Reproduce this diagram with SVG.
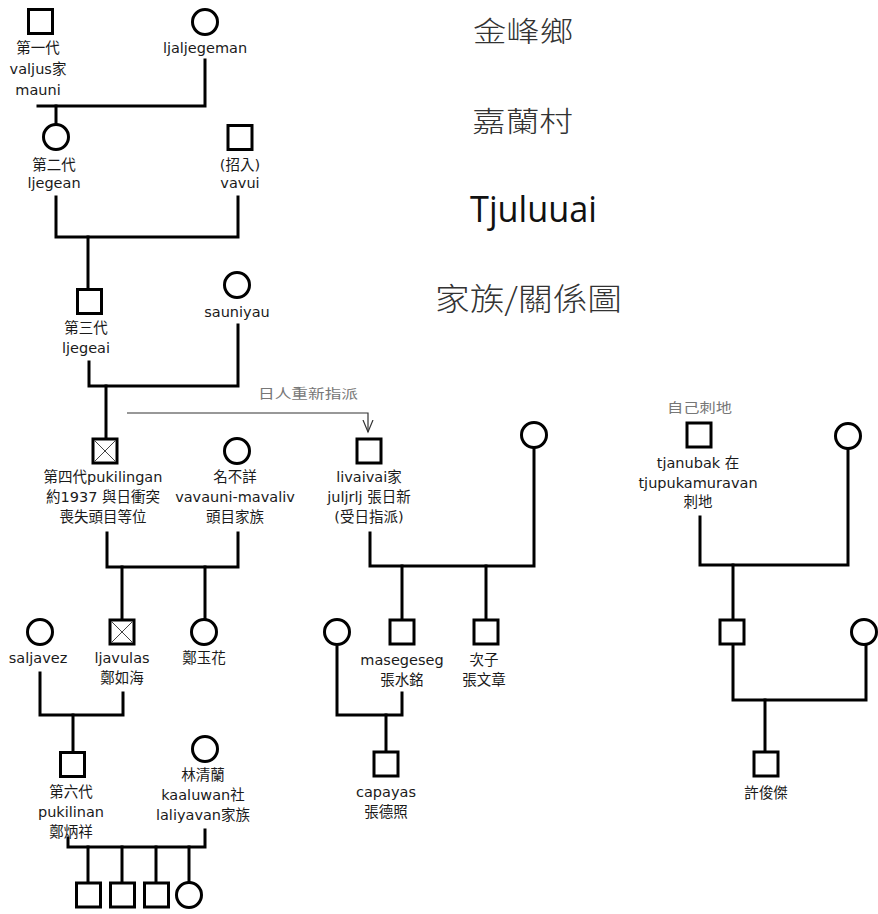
<svg xmlns="http://www.w3.org/2000/svg" width="878" height="914" viewBox="0 0 878 914">
<defs>
<style>
.ln{fill:none;stroke:#000;stroke-width:3;stroke-linecap:square}
.nd{fill:#fff;stroke:#000;stroke-width:3}
.x{stroke:#444;stroke-width:1}
.t{font-family:"DejaVu Sans","Noto Sans CJK TC",sans-serif;font-size:14.5px;fill:#1a1a1a;text-anchor:middle}
.g{font-family:"DejaVu Sans","Noto Sans CJK TC",sans-serif;font-size:13px;fill:#777}
.h{font-family:"Noto Sans CJK TC",sans-serif;font-weight:300;fill:#333}
.hl{font-family:"Open Sans","Liberation Sans",sans-serif;font-weight:400;fill:#111}
</style>
<marker id="arr" markerWidth="12" markerHeight="14" refX="6" refY="12" orient="0" markerUnits="userSpaceOnUse">
<path d="M1,0 L6,12 L11,0" fill="none" stroke="#333" stroke-width="1.2"/>
</marker>
</defs>
<rect width="878" height="914" fill="#fff"/>

<g id="titles">
<text class="h" x="473" y="42" font-size="28" textLength="100" lengthAdjust="spacingAndGlyphs">金峰鄉</text>
<text class="h" x="472" y="132" font-size="28" textLength="101" lengthAdjust="spacingAndGlyphs">嘉蘭村</text>
<text class="hl" x="470" y="222" font-size="36" textLength="127" lengthAdjust="spacingAndGlyphs">Tjuluuai</text>
<text class="h" x="435" y="310" font-size="31" textLength="187" lengthAdjust="spacingAndGlyphs">家族/關係圖</text>
</g>

<g id="connectors">
<path class="ln" d="M38,106 H205 V60"/>
<path class="ln" d="M56,106 V123"/>
<path class="ln" d="M56,197 V237 H238 V197"/>
<path class="ln" d="M88,237 V288"/>
<path class="ln" d="M89,362 V386 H238 V325"/>
<path class="ln" d="M106,386 V437"/>
<path class="ln" d="M107,533 V567 H238 V533"/>
<path class="ln" d="M122,567 V618"/>
<path class="ln" d="M205,567 V618"/>
<path class="ln" d="M40,673 V715 H123 V693"/>
<path class="ln" d="M73,715 V751"/>
<path class="ln" d="M68,838 V847 H205 V830"/>
<path class="ln" d="M88,847 V882"/>
<path class="ln" d="M122,847 V882"/>
<path class="ln" d="M156,847 V882"/>
<path class="ln" d="M189,847 V882"/>
<path class="ln" d="M370,533 V566 H534 V448"/>
<path class="ln" d="M402,566 V618"/>
<path class="ln" d="M486,566 V618"/>
<path class="ln" d="M337,647 V715 H402 V693"/>
<path class="ln" d="M386,715 V750"/>
<path class="ln" d="M700,517 V565 H848 V450"/>
<path class="ln" d="M733,565 V618"/>
<path class="ln" d="M733,645 V700 H866 V645"/>
<path class="ln" d="M765,700 V750"/>
<path d="M127,413 H368 V432" fill="none" stroke="#333" stroke-width="1.2" marker-end="url(#arr)"/>
<text class="g" x="258" y="398" textLength="100" lengthAdjust="spacingAndGlyphs">日人重新指派</text>
</g>

<g id="gen1-mauni">
<rect class="nd" x="28.5" y="9.5" width="24" height="24"/>
<text class="t" x="38" y="53">第一代</text>
<text class="t" x="38" y="74">valjus家</text>
<text class="t" x="38" y="95">mauni</text>
</g>
<g id="ljaljegeman">
<circle class="nd" cx="205" cy="22" r="12.5"/>
<text class="t" x="205" y="53">ljaljegeman</text>
</g>
<g id="gen2-ljegean">
<circle class="nd" cx="56" cy="137" r="12.5"/>
<text class="t" x="54" y="170">第二代</text>
<text class="t" x="54" y="188">ljegean</text>
</g>
<g id="vavui">
<rect class="nd" x="228" y="125.5" width="24" height="24"/>
<text class="t" x="240" y="170">(招入)</text>
<text class="t" x="240" y="188">vavui</text>
</g>
<g id="gen3-ljegeai">
<rect class="nd" x="77.5" y="289.5" width="24" height="24"/>
<text class="t" x="86" y="333">第三代</text>
<text class="t" x="86" y="353">ljegeai</text>
</g>
<g id="sauniyau">
<circle class="nd" cx="237" cy="285" r="12.5"/>
<text class="t" x="237" y="317">sauniyau</text>
</g>
<g id="gen4-pukilingan">
<rect class="nd" x="93" y="439" width="24" height="24"/>
<path class="x" d="M94.5,440.5 L115.5,461.5 M115.5,440.5 L94.5,461.5"/>
<text class="t" x="103" y="482">第四代pukilingan</text>
<text class="t" x="103" y="502">約1937 與日衝突</text>
<text class="t" x="103" y="522">喪失頭目等位</text>
</g>
<g id="vavauni-mavaliv">
<circle class="nd" cx="237" cy="451" r="12.5"/>
<text class="t" x="235" y="482">名不詳</text>
<text class="t" x="235" y="502">vavauni-mavaliv</text>
<text class="t" x="235" y="522">頭目家族</text>
</g>
<g id="livaivai">
<rect class="nd" x="357" y="439" width="24" height="24"/>
<text class="t" x="369" y="482">livaivai家</text>
<text class="t" x="369" y="502">juljrlj 張日新</text>
<text class="t" x="369" y="522">(受日指派)</text>
</g>
<g id="livaivai-wife">
<circle class="nd" cx="534" cy="435" r="12.5"/>
</g>
<g id="tjanubak">
<text class="g" x="667" y="412" textLength="65" lengthAdjust="spacingAndGlyphs">自己刺地</text>
<rect class="nd" x="687" y="423" width="24" height="24"/>
<text class="t" x="698" y="468">tjanubak 在</text>
<text class="t" x="698" y="488">tjupukamuravan</text>
<text class="t" x="698" y="507">刺地</text>
</g>
<g id="tjanubak-wife">
<circle class="nd" cx="848" cy="436" r="12.5"/>
</g>
<g id="saljavez">
<circle class="nd" cx="40" cy="632" r="12.5"/>
<text class="t" x="38" y="663">saljavez</text>
</g>
<g id="ljavulas">
<rect class="nd" x="110" y="620" width="24" height="24"/>
<path class="x" d="M111.5,621.5 L132.5,642.5 M132.5,621.5 L111.5,642.5"/>
<text class="t" x="122" y="663">ljavulas</text>
<text class="t" x="122" y="683">鄭如海</text>
</g>
<g id="zheng-yuhua">
<circle class="nd" cx="204" cy="632" r="12.5"/>
<text class="t" x="204" y="663">鄭玉花</text>
</g>
<g id="masegeseg-wife">
<circle class="nd" cx="337" cy="632" r="12.5"/>
</g>
<g id="masegeseg">
<rect class="nd" x="390" y="620" width="24" height="24"/>
<text class="t" x="402" y="665">masegeseg</text>
<text class="t" x="402" y="685">張水銘</text>
</g>
<g id="second-son">
<rect class="nd" x="474" y="620" width="24" height="24"/>
<text class="t" x="484" y="665">次子</text>
<text class="t" x="484" y="685">張文章</text>
</g>
<g id="tjanubak-son">
<rect class="nd" x="720" y="620" width="24" height="24"/>
</g>
<g id="tjanubak-son-wife">
<circle class="nd" cx="864" cy="632" r="12.5"/>
</g>
<g id="gen6-pukilinan">
<rect class="nd" x="60.5" y="752.5" width="24" height="24"/>
<text class="t" x="71" y="797">第六代</text>
<text class="t" x="71" y="817">pukilinan</text>
<text class="t" x="71" y="837">鄭炳祥</text>
</g>
<g id="lin-qinglan">
<circle class="nd" cx="205" cy="749" r="12.5"/>
<text class="t" x="203" y="780">林清蘭</text>
<text class="t" x="203" y="800">kaaluwan社</text>
<text class="t" x="203" y="820">laliyavan家族</text>
</g>
<g id="capayas">
<rect class="nd" x="374" y="752" width="24" height="24"/>
<text class="t" x="386" y="797">capayas</text>
<text class="t" x="386" y="817">張德照</text>
</g>
<g id="xu-junjie">
<rect class="nd" x="754" y="752" width="24" height="24"/>
<text class="t" x="766" y="798">許俊傑</text>
</g>
<g id="child1"><rect class="nd" x="76.5" y="883" width="24" height="24"/></g>
<g id="child2"><rect class="nd" x="110.5" y="883" width="24" height="24"/></g>
<g id="child3"><rect class="nd" x="144.5" y="883" width="24" height="24"/></g>
<g id="child4"><circle class="nd" cx="189" cy="895" r="12.5"/></g>
</svg>
